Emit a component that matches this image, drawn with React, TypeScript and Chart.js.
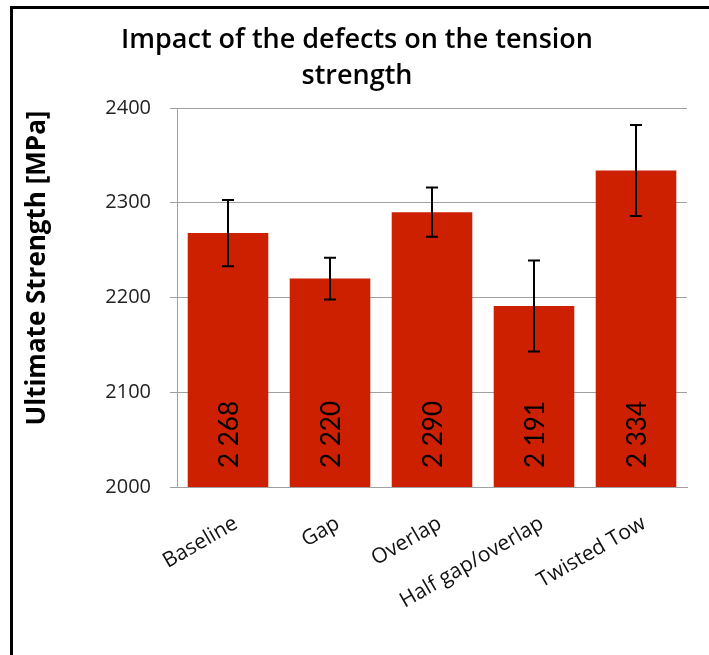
import React, { useEffect, useRef } from "react";
import { Chart, registerables } from "chart.js";

Chart.register(...registerables);

const categories = ["Baseline", "Gap", "Overlap", "Half gap/overlap", "Twisted Tow"];
const strengths = [2268, 2220, 2290, 2191, 2334];
const errors = [35, 22, 26, 48, 48];
const valueLabels = ["2 268", "2 220", "2 290", "2 191", "2 334"];
const titleLines = ["Impact of the defects on the tension", "strength"];
const yTitle = "Ultimate Strength [MPa]";
const yMin = 2000;
const yMax = 2400;
const yStep = 100;

const FONT = "'Open Sans', Lato, sans-serif";
const LFONT = "Lato, 'Open Sans', sans-serif";

const overlayPlugin = {
  id: "overlay",
  afterDatasetsDraw(chart: any) {
    const { ctx, scales } = chart;
    const x = scales.x;
    const y = scales.y;
    ctx.save();
    categories.forEach((_, i) => {
      const cx = x.getPixelForValue(i);
      const top = y.getPixelForValue(strengths[i] + errors[i]);
      const bot = y.getPixelForValue(strengths[i] - errors[i]);
      ctx.strokeStyle = "#000";
      ctx.lineWidth = 2;
      ctx.beginPath();
      ctx.moveTo(cx, top);
      ctx.lineTo(cx, bot);
      ctx.moveTo(cx - 6, top);
      ctx.lineTo(cx + 6, top);
      ctx.moveTo(cx - 6, bot);
      ctx.lineTo(cx + 6, bot);
      ctx.stroke();

      ctx.save();
      ctx.translate(cx + 2, y.getPixelForValue(yMin) - 19);
      ctx.rotate(-Math.PI / 2);
      ctx.font = `26px ${LFONT}`;
      ctx.textAlign = "left";
      ctx.textBaseline = "middle";
      ctx.fillStyle = "#000";
      ctx.fillText(valueLabels[i], 0, 0);
      ctx.restore();
    });

    ctx.fillStyle = "#000";
    ctx.font = `600 27px ${FONT}`;
    ctx.textAlign = "center";
    ctx.textBaseline = "alphabetic";
    ctx.fillText(titleLines[0], 357, 48);
    ctx.fillText(titleLines[1], 357, 84);

    ctx.save();
    ctx.translate(38, 268);
    ctx.rotate(-Math.PI / 2);
    ctx.textBaseline = "middle";
    ctx.textAlign = "center";
    ctx.font = `bold 26px ${FONT}`;
    ctx.fillText(yTitle, 0, 0);
    ctx.restore();
    ctx.restore();
  },
};

export default function App() {
  const ref = useRef<HTMLCanvasElement>(null);
  useEffect(() => {
    if (!ref.current) return;
    const chart = new Chart(ref.current, {
      type: "bar",
      data: {
        labels: categories,
        datasets: [
          {
            data: strengths,
            backgroundColor: "#CC2000",
            borderWidth: 0,
            barPercentage: 0.79,
            categoryPercentage: 1,
          },
        ],
      },
      options: {
        responsive: false,
        animation: false,
        devicePixelRatio: 1,
        layout: { padding: { top: 108, right: 22, left: 0, bottom: 0 } },
        plugins: {
          legend: { display: false },
          tooltip: { enabled: false },
          title: { display: false },
        },
        scales: {
          x: {
            afterFit: (s: any) => {
              s.height = 168;
            },
            grid: { display: false, drawTicks: false },
            border: { color: "#a0a0a0" },
            ticks: {
              minRotation: 30,
              maxRotation: 30,
              padding: 24,
              labelOffset: 8,
              color: "#111",
              font: { family: FONT, size: 21 },
            },
          },
          y: {
            min: yMin,
            max: yMax,
            afterFit: (s: any) => {
              s.width = 177;
            },
            grid: { color: "#a0a0a0", tickLength: 7, lineWidth: 1 },
            border: { color: "#a0a0a0" },
            ticks: {
              stepSize: yStep,
              padding: 19,
              color: "#222",
              font: { family: FONT, size: 20 },
              callback: (v: any) => String(v),
            },
          },
        },
      },
      plugins: [overlayPlugin],
    });
    return () => chart.destroy();
  }, []);

  return (
    <div style={{ position: "absolute", left: 0, top: 0, width: 709, height: 655, background: "#fff" }}>
      <canvas ref={ref} width={709} height={655} style={{ display: "block", width: 709, height: 655 }} />
      <div
        style={{
          position: "absolute",
          left: 10,
          top: 6,
          width: 699,
          height: 649,
          borderTop: "3px solid #000",
          borderLeft: "3px solid #000",
          boxSizing: "border-box",
          pointerEvents: "none",
        }}
      />
    </div>
  );
}
